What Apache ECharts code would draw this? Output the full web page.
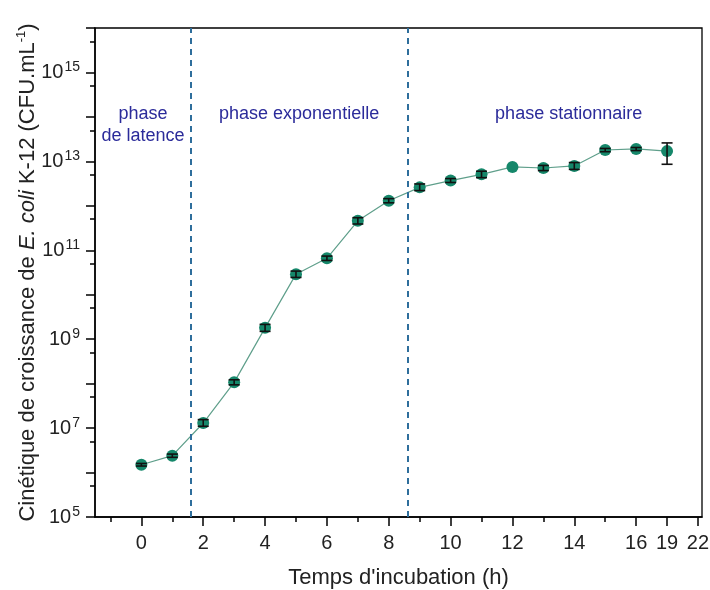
<!DOCTYPE html>
<html><head><meta charset="utf-8">
<script src="https://cdn.jsdelivr.net/npm/echarts@6/dist/echarts.min.js"></script>
<style>html,body{margin:0;padding:0;background:#fff}#c{width:710px;height:590px}</style>
</head><body><div id="c"></div>
<script>
// ---- data ----
const hours   = [0, 1, 2, 3, 4, 5, 6, 7, 8, 9, 10, 11, 12, 13, 14, 15, 16, 19];
const cfu     = [1.5e6, 2.4e6, 1.3e7, 1.07e8, 1.8e9, 2.9e10, 6.6e10, 4.6e11, 1.3e12, 2.6e12, 3.7e12, 5.1e12, 7.5e12, 7.1e12, 7.9e12, 1.8e13, 1.9e13, 1.7e13];
const cfuLow  = [1.4e6, 2.2e6, 1.1e7, 9.4e7, 1.5e9, 2.45e10, 5.9e10, 3.9e11, 1.17e12, 2.2e12, 3.35e12, 4.3e12, 7.5e12, 6.2e12, 6.6e12, 1.65e13, 1.75e13, 8.6e12];
const cfuHigh = [1.6e6, 2.6e6, 1.55e7, 1.22e8, 2.15e9, 3.4e10, 7.4e10, 5.4e11, 1.45e12, 3.1e12, 4.1e12, 6.0e12, 7.5e12, 8.1e12, 9.4e12, 1.95e13, 2.05e13, 2.6e13];

const xTickHours      = [0, 2, 4, 6, 8, 10, 12, 14, 16, 19, 22];
const xMinorTickHours = [-1, 1, 3, 5, 7, 9, 11, 13, 15];
const yMajorTicks = [1e5, 1e6, 1e7, 1e8, 1e9, 1e10, 1e11, 1e12, 1e13, 1e14, 1e15, 1e16];
const yLabelTicks = [1e5, 1e7, 1e9, 1e11, 1e13, 1e15];
const yMinorTicks = [5e5, 5e6, 5e7, 5e8, 5e9, 5e10, 5e11, 5e12, 5e13, 5e14, 5e15];

const phaseBounds = [1.6, 8.6];
const phaseNames  = ['phase\nde latence', 'phase exponentielle', 'phase stationnaire'];

// ---- broken time axis: linear up to 16 h, then 3 h per unit ----
const BREAK_AT = 16, COMPRESS = 3;
const axisPos   = h => h <= BREAK_AT ? h : BREAK_AT + (h - BREAK_AT) / COMPRESS;
const posToHour = p => p <= BREAK_AT + 1e-9 ? p : BREAK_AT + (p - BREAK_AT) * COMPRESS;

const X_MIN = -1.5, X_MAX = 18.13;
const FONT = 'Liberation Sans, Arial, sans-serif';
const INK = '#222';

const chart = echarts.init(document.getElementById('c'), null, {renderer: 'canvas'});

const lineData = hours.map((h, i) => [axisPos(h), cfu[i]]);
const errData  = hours.map((h, i) => [axisPos(h), cfuLow[i], cfuHigh[i]]);

const phaseEdges = [X_MIN].concat(phaseBounds, [X_MAX]);
const labelOffsets = [[0, 70], [0, 70], [14, 70]];
const areaData = phaseNames.map((n, i) => [
  {name: n, xAxis: phaseEdges[i], label: {offset: labelOffsets[i]}},
  {xAxis: phaseEdges[i + 1]}
]);

chart.setOption({
  animation: false,
  backgroundColor: '#fff',
  textStyle: {fontFamily: FONT},
  grid: {left: 95, right: 8, top: 28, bottom: 73, show: true, borderColor: '#000', borderWidth: 1.3,
         backgroundColor: 'transparent', containLabel: false, outerBoundsMode: 'none'},
  xAxis: [
    {
      type: 'value', min: X_MIN, max: X_MAX, position: 'bottom',
      axisLine: {show: true, onZero: false, lineStyle: {color: '#000', width: 1.5}},
      axisTick: {show: true, inside: false, length: 9, customValues: xTickHours.map(axisPos), lineStyle: {color: '#000', width: 1.5}},
      axisLabel: {customValues: xTickHours.map(axisPos), fontSize: 20, color: INK, margin: 16, fontFamily: FONT,
        formatter: v => String(Math.round(posToHour(v)))},
      splitLine: {show: false},
      name: "Temps d'incubation (h)", nameLocation: 'middle', nameGap: 50,
      nameTextStyle: {fontSize: 22, color: INK, fontFamily: FONT}
    },
    {
      type: 'value', min: X_MIN, max: X_MAX, position: 'bottom',
      axisLine: {show: false, onZero: false},
      axisTick: {show: true, inside: false, length: 5, customValues: xMinorTickHours.map(axisPos), lineStyle: {color: '#000', width: 1.5}},
      axisLabel: {show: false}, splitLine: {show: false}
    }
  ],
  yAxis: [
    {
      type: 'log', logBase: 10, min: 1e5, max: 1e16, position: 'left',
      axisLine: {show: true, onZero: false, lineStyle: {color: '#000', width: 1.5}},
      axisTick: {show: true, inside: false, length: 9, customValues: yMajorTicks, lineStyle: {color: '#000', width: 1.5}},
      axisLabel: {customValues: yLabelTicks, margin: 15, color: INK,
        formatter: v => '{b|10}{s|' + Math.round(Math.log10(v)) + '}',
        rich: {
          b: {fontSize: 20, color: INK, fontFamily: FONT, lineHeight: 24},
          s: {fontSize: 14, color: INK, fontFamily: FONT, verticalAlign: 'top', lineHeight: 14, padding: [0, 0, 0, 1]}
        }},
      splitLine: {show: false}, minorTick: {show: false},
      name: '{n|Cinétique de croissance de }{i|E. coli}{n| K-12 (CFU.mL}{s|-1}{n|)}',
      nameLocation: 'middle', nameGap: 54, nameMoveOverlap: false,
      nameTextStyle: {color: INK, fontFamily: FONT,
        rich: {
          n: {fontSize: 22, color: INK, fontFamily: FONT, lineHeight: 26},
          i: {fontSize: 22, color: INK, fontFamily: FONT, fontStyle: 'italic', lineHeight: 26},
          s: {fontSize: 13, color: INK, fontFamily: FONT, verticalAlign: 'top', lineHeight: 13}
        }}
    },
    {
      type: 'log', logBase: 10, min: 1e5, max: 1e16, position: 'left',
      axisLine: {show: false, onZero: false},
      axisTick: {show: true, inside: false, length: 5, customValues: yMinorTicks, lineStyle: {color: '#000', width: 1.5}},
      axisLabel: {show: false}, splitLine: {show: false}
    }
  ],
  series: [
    {
      type: 'line', xAxisIndex: 0, yAxisIndex: 0, data: lineData,
      symbol: 'circle', symbolSize: 12, z: 3,
      itemStyle: {color: '#15876a'},
      lineStyle: {color: '#5f9f8b', width: 1.2},
      markLine: {
        silent: true, symbol: 'none', label: {show: false},
        lineStyle: {type: [6, 5], color: '#2e6e9c', width: 2},
        data: phaseBounds.map(b => ({xAxis: b}))
      },
      markArea: {
        silent: true,
        itemStyle: {color: 'rgba(0,0,0,0)'},
        label: {show: true, position: 'insideTop', fontSize: 18, lineHeight: 22, color: '#2b2b9a', fontFamily: FONT, align: 'center'},
        data: areaData
      }
    },
    {
      type: 'custom', xAxisIndex: 0, yAxisIndex: 0, data: errData, z: 5,
      encode: {x: 0, y: [1, 2]},
      renderItem: (params, api) => {
        const x = api.value(0), lo = api.value(1), hi = api.value(2);
        if (lo === hi) return null;
        const a = api.coord([x, lo]), b = api.coord([x, hi]);
        const w = 5.5;
        const st = {stroke: '#111', lineWidth: 1.6};
        return {type: 'group', children: [
          {type: 'line', shape: {x1: a[0], y1: a[1], x2: b[0], y2: b[1]}, style: st},
          {type: 'line', shape: {x1: a[0] - w, y1: a[1], x2: a[0] + w, y2: a[1]}, style: st},
          {type: 'line', shape: {x1: b[0] - w, y1: b[1], x2: b[0] + w, y2: b[1]}, style: st}
        ]};
      }
    }
  ]
});
</script>
</body></html>
